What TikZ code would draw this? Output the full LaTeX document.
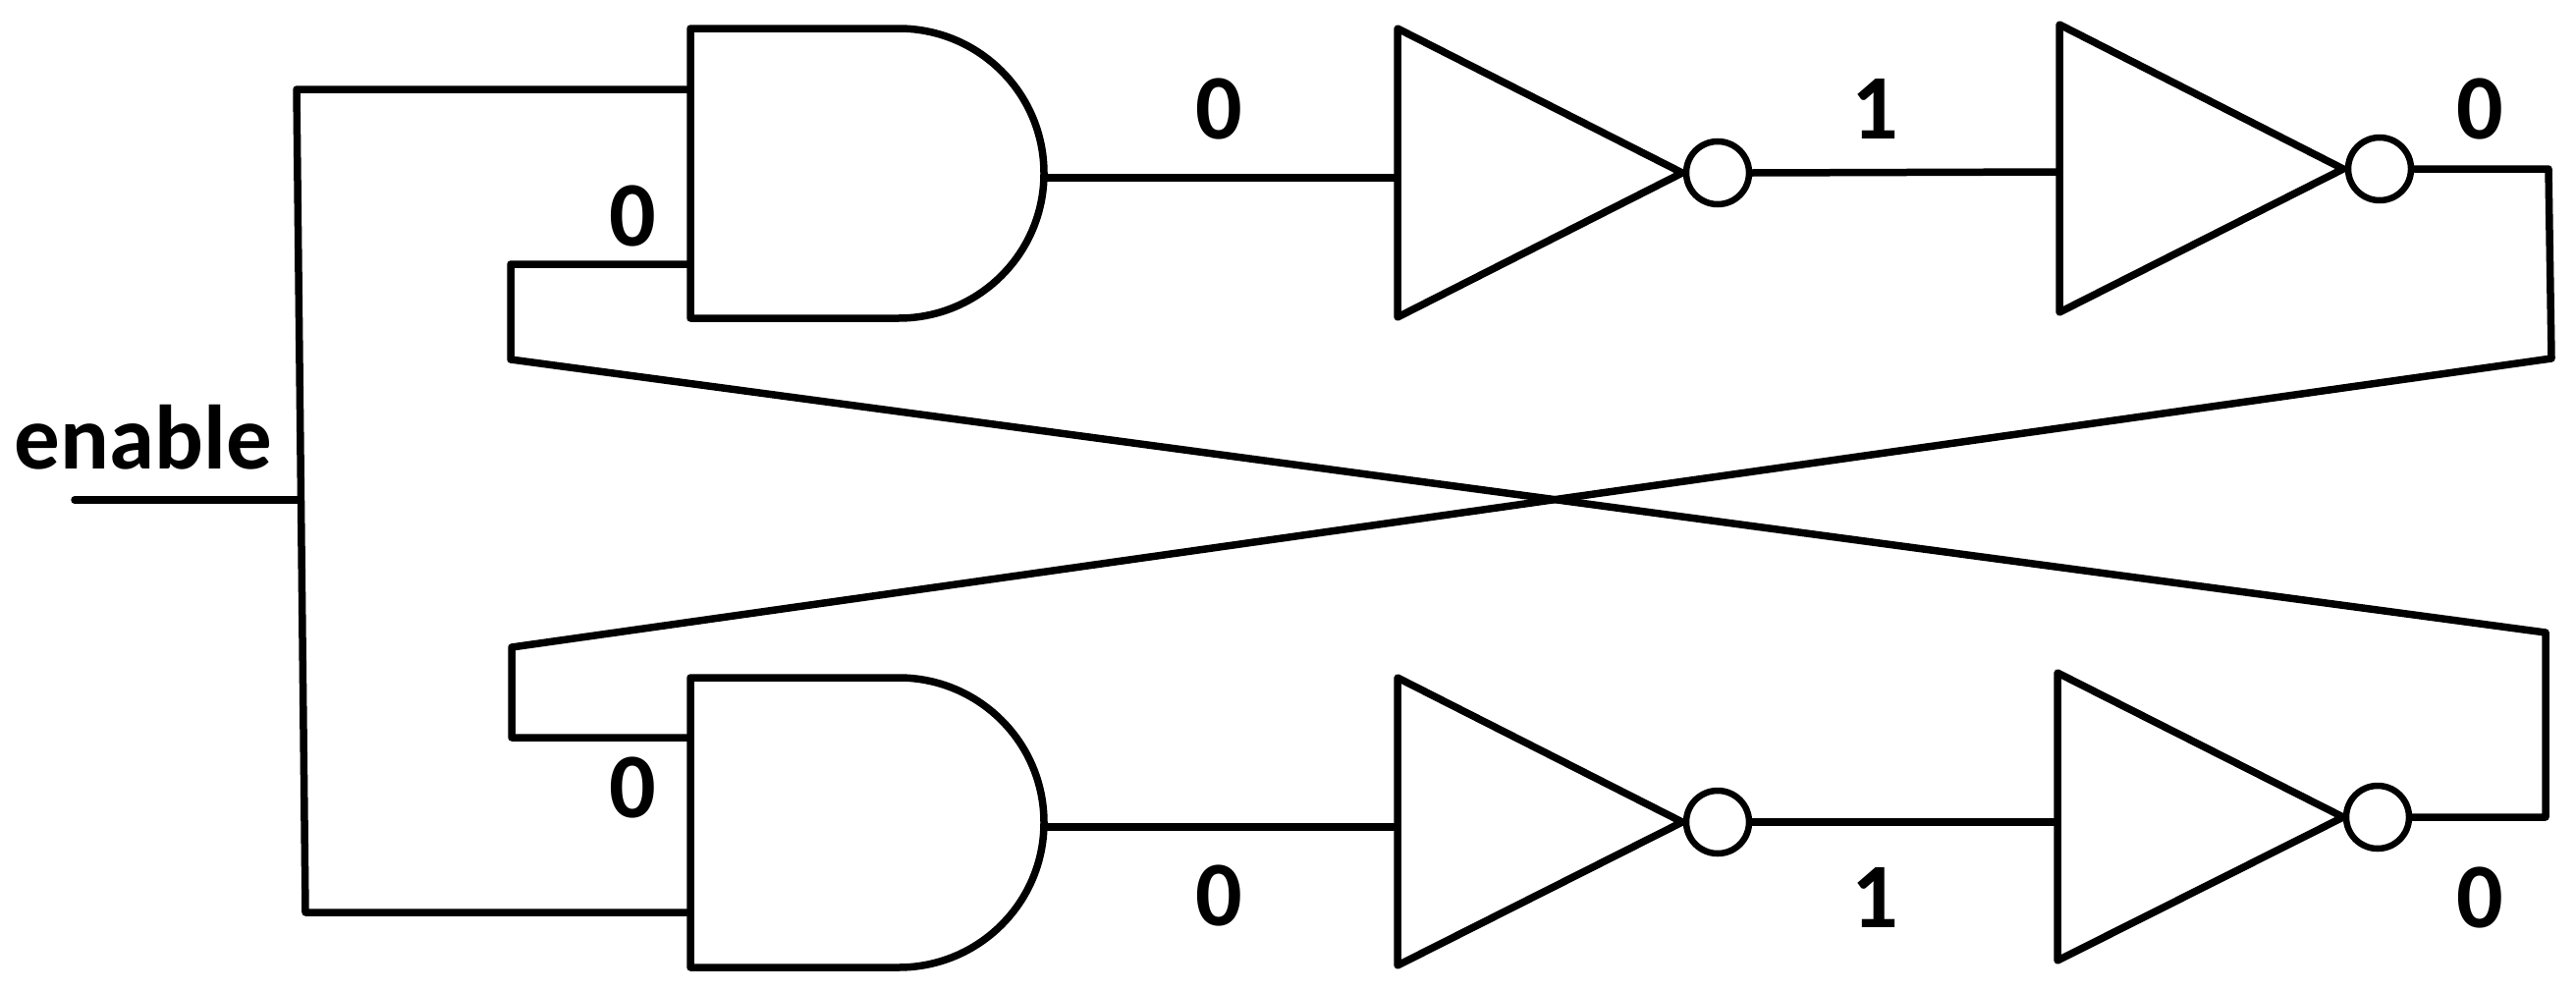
\documentclass[tikz,border=0pt]{standalone}
\usepackage{fontspec}
\setmainfont{Carlito}
\tikzset{
  wire/.style={line width=7.5pt,line join=round,line cap=round},
  gateline/.style={line width=7.5pt,line join=round},
  bubble/.style={circle,draw,line width=6.5pt,minimum size=64pt,inner sep=0pt,fill=white},
  lbl/.style={inner sep=0pt,anchor=base,font=\fontsize{94}{94}\selectfont\bfseries}
}
\begin{document}
\begin{tikzpicture}[x=1pt,y=-1pt]
\useasboundingbox (0,0) rectangle (2623,1009);
% named ports
\coordinate (andAin1) at (703,91);
\coordinate (andAin2) at (703,269);
\coordinate (andAout) at (1063,181);
\coordinate (andBin1) at (703,751);
\coordinate (andBin2) at (703,929);
\coordinate (andBout) at (1063,842);
\coordinate (invAin) at (1423,181);
\coordinate (invAtip) at (1713,176);
\coordinate (invBin) at (2097,175);
\coordinate (invBtip) at (2386,172);
\coordinate (invCin) at (1423,842);
\coordinate (invCtip) at (1713,837);
\coordinate (invDin) at (2095,837);
\coordinate (invDtip) at (2386,832);
\coordinate (enIn) at (76,509);
\coordinate (enJoin) at (306,509);
\coordinate (busTop) at (302,91);
\coordinate (busBot) at (311,929);
\coordinate (fbA1) at (520,269);
\coordinate (fbA2) at (520,366);
\coordinate (fbA3) at (2592,644);
\coordinate (fbB1) at (2595,172);
\coordinate (fbB2) at (2598,365);
\coordinate (fbB3) at (521,659);
\coordinate (fbB4) at (521,751);
\coordinate (fbA4) at (2592,832);
% AND gates
\draw[gateline] (703,29) -- (915,29) arc[start angle=-90,end angle=90,x radius=148,y radius=147.5] -- (703,324) -- cycle;
\draw[gateline] (703,690) -- (915,690) arc[start angle=-90,end angle=90,x radius=148,y radius=147.5] -- (703,985) -- cycle;
% inverters
\draw[gateline] (1423,29) -- (invAtip) -- (1423,323) -- cycle;
\draw[gateline] (2097,25) -- (invBtip) -- (2097,318) -- cycle;
\draw[gateline] (1423,690) -- (invCtip) -- (1423,983) -- cycle;
\draw[gateline] (2095,685) -- (invDtip) -- (2095,978) -- cycle;
% bubbles
\node[bubble] (bubA) at (1749,176) {};
\node[bubble] (bubB) at (2423,172) {};
\node[bubble] (bubC) at (1749,837) {};
\node[bubble] (bubD) at (2421,832) {};
% connectors
\draw[wire] (andAin1) -- (busTop) -- (busBot) -- (andBin2);
\draw[wire] (enIn) -- (enJoin);
\draw[wire] (andAin2) -- (fbA1) -- (fbA2) -- (fbA3) -- (fbA4) -- (bubD.east);
\draw[wire] (bubB.east) -- (fbB1) -- (fbB2) -- (fbB3) -- (fbB4) -- (andBin1);
\draw[wire] (andAout) -- (invAin);
\draw[wire] (andBout) -- (invCin);
\draw[wire] (bubA.east) -- (invBin);
\draw[wire] (bubC.east) -- (invDin);
% labels
\node[lbl,font=\fontsize{93}{93}\selectfont\bfseries] (tEnable) at (146,477) {enable};
\node[lbl] (tA) at (644,250) {0};
\node[lbl] (tB) at (1241,141) {0};
\node[lbl] (tC) at (1909,141) {1};
\node[lbl] (tD) at (2525,141) {0};
\node[lbl] (tE) at (644,832) {0};
\node[lbl] (tF) at (1241,942) {0};
\node[lbl] (tG) at (1909,944) {1};
\node[lbl] (tH) at (2525,944) {0};
\end{tikzpicture}
\end{document}
